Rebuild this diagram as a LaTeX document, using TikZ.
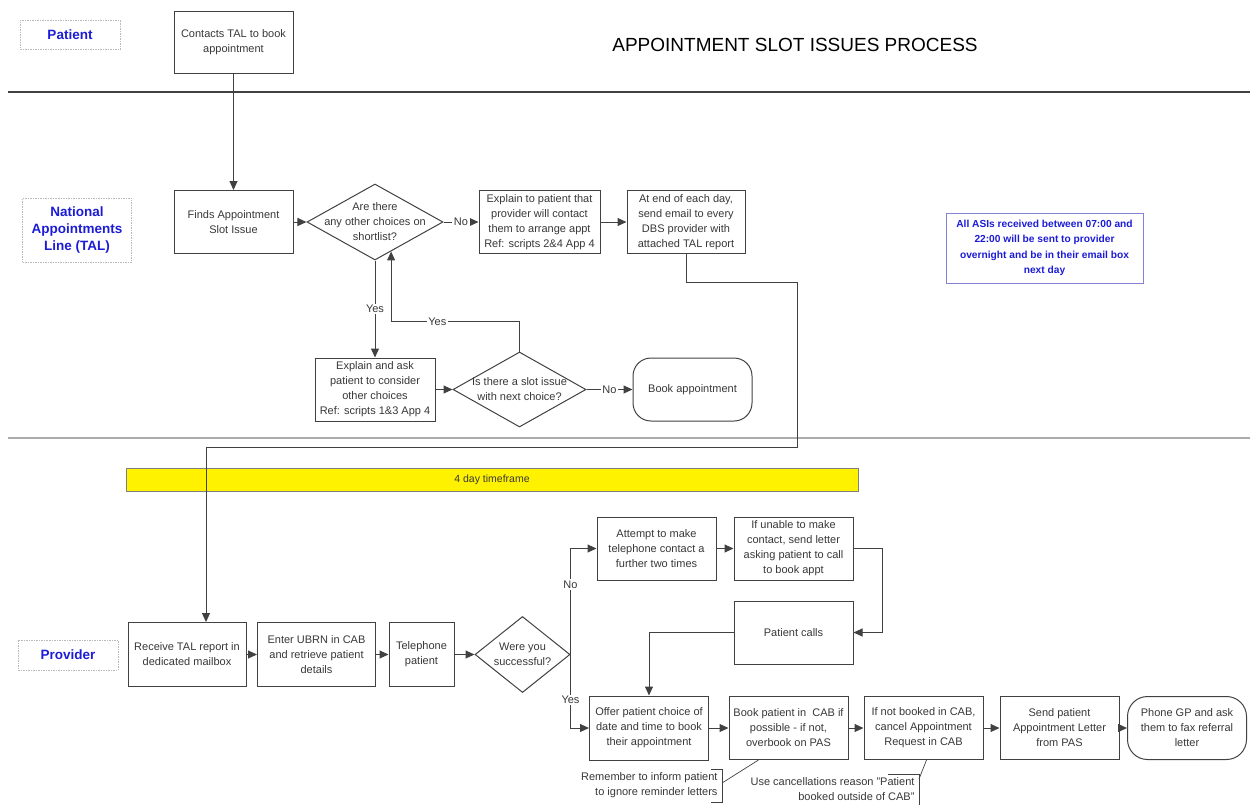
\documentclass[tikz,border=0pt]{standalone}
\usepackage{fontspec}
\setmainfont{Liberation Sans}
\usetikzlibrary{shapes.geometric,arrows.meta,calc}

\definecolor{lineclr}{RGB}{65,65,65}
\definecolor{txtclr}{RGB}{55,55,55}
\definecolor{laneblue}{RGB}{28,28,215}
\definecolor{noteblue}{RGB}{130,130,215}

\tikzset{
  procbox/.style={draw=lineclr, minimum width=119, minimum height=63, inner sep=2pt, align=center, text=txtclr},
  endbox/.style={procbox, rounded corners=18pt},
  decision/.style={draw=lineclr, shape=diamond, inner sep=0pt},
  dtext/.style={align=center, text=txtclr, inner sep=1pt},
  lane/.style={draw=gray!55, dash pattern=on 1.5pt off 1pt, align=center, text=laneblue,
    font=\fontsize{13.5}{17}\selectfont\bfseries},
  flow/.style={draw=lineclr, -{Triangle[length=9pt,width=8pt]}},
  lbl/.style={fill=white, inner sep=1.5pt, text=txtclr},
}

\begin{document}
\begin{tikzpicture}[x=1pt, y=-1pt, line width=1pt, font=\fontsize{11}{15}\selectfont]
\useasboundingbox (0,0) rectangle (1250,804);

% swimlanes
\draw[lineclr, line width=1.2pt] (8,92) -- (1250,92);
\draw[gray!65, line width=2.2pt] (8,438) -- (1250,438);
\node[lane, minimum width=100, minimum height=29] (patientlane) at (70,35) {Patient};
\node[lane, minimum width=109, minimum height=64] (tallane) at (77,230) {National\\Appointments\\Line (TAL)};
\node[lane, minimum width=100, minimum height=30] (providerlane) at (68,655) {Provider};

\node[text=black, font=\fontsize{19}{22}\selectfont] (title) at (795,45) {APPOINTMENT SLOT ISSUES PROCESS};

% patient and TAL
\node[procbox, minimum height=62] (contact) at (233.5,42) {Contacts TAL to book\\appointment};
\node[procbox] (findsasi) at (233.5,222) {Finds Appointment\\Slot Issue};
\node[decision, minimum width=136, minimum height=76] (choice) at (375,222) {};
\node[dtext] (choicetext) at (choice) {Are there\\any other choices on\\shortlist?};
\node[procbox, minimum width=121] (explainno) at (539.5,222) {Explain to patient that\\provider will contact\\them to arrange appt\\Ref: scripts 2\&4 App 4};
\node[procbox, minimum width=118] (sendemail) at (686,222) {At end of each day,\\send email to every\\DBS provider with\\attached TAL report};
\node[procbox, minimum width=120] (explainask) at (375,389.5) {Explain and ask\\patient to consider\\other choices\\Ref: scripts 1\&3 App 4};
\node[decision, minimum width=133, minimum height=75] (slotissue) at (519.5,389.5) {};
\node[dtext] (slotissuetext) at (slotissue) {Is there a slot issue\\with next choice?};
\node[endbox] (bookappt) at (692.5,389.5) {Book appointment};

\node[draw=noteblue, line width=1pt, text=laneblue, font=\fontsize{10.2}{15.5}\selectfont\bfseries,
  align=center, minimum width=197, minimum height=70, inner sep=2pt] (asinote) at (1044.5,248)
  {All ASIs received between 07:00 and\\22:00 will be sent to provider\\overnight and be in their email box\\next day};

\draw[flow] (contact) -- (findsasi);
\draw[flow] (findsasi) -- (choice);
\draw[flow] (choice) -- node[lbl] {No} (explainno);
\draw[flow] (explainno) -- (sendemail);
\draw[flow] (choice) -- node[lbl] {Yes} (explainask);
\draw[flow] (explainask) -- (slotissue);
\draw[flow] (slotissue) -- node[lbl] {No} (bookappt);
\coordinate (choicein) at ($(choice.south)!0.235!(choice.east)$);
\draw[flow] (slotissue.north) |- ($(choicein)+(0,70)$) node[lbl, pos=0.82] {Yes} -- (choicein);

% provider
\node[fill=yellow, draw=gray, line width=0.7pt, minimum width=732, minimum height=23, inner sep=0pt,
  text=txtclr, font=\fontsize{10.5}{12}\selectfont] (timeframe) at (492,479.5) {4 day timeframe};

\node[procbox, minimum width=118, minimum height=64] (receive) at (187,654.5) {Receive TAL report in\\dedicated mailbox};
\node[procbox, minimum width=118, minimum height=64] (enterubrn) at (316.5,654.5) {Enter UBRN in CAB\\and retrieve patient\\details};
\node[procbox, minimum width=65, minimum height=64] (phonepat) at (421.5,654.5) {Telephone\\patient};
\node[decision, minimum width=95, minimum height=76] (success) at (522.5,654.5) {};
\node[dtext] (successtext) at (success) {Were you\\successful?};
\node[procbox] (attempt) at (656.5,548.5) {Attempt to make\\telephone contact a\\further two times};
\node[procbox] (unable) at (793.5,548.5) {If unable to make\\contact, send letter\\asking patient to call\\to book appt};
\node[procbox] (patcalls) at (793.5,632.5) {Patient calls};
\node[procbox, minimum height=64] (offer) at (649,728) {Offer patient choice of\\date and time to book\\their appointment};
\node[procbox] (bookcab) at (788.5,728) {Book patient in\ \ CAB if\\possible - if not,\\overbook on PAS};
\node[procbox] (cancelcab) at (923.5,728) {If not booked in CAB,\\cancel Appointment\\Request in CAB};
\node[procbox] (sendletter) at (1059.5,728) {Send patient\\Appointment Letter\\from PAS};
\node[endbox, rounded corners=20pt] (phonegp) at (1187,728) {Phone GP and ask\\them to fax referral\\letter};

\node[dtext, align=right, anchor=east] (remind) at (719,785) {Remember to inform patient\\to ignore reminder letters};
\node[dtext, align=right, anchor=east] (cancelnote) at (916,789) {Use cancellations reason "Patient\\booked outside of CAB"};

% TAL report to provider
\coordinate (route1) at (797,282);
\coordinate (route2) at (797,447);
\coordinate (rin) at ([xshift=19pt]receive.north);
\draw[flow] (sendemail.south) |- (route1) -- (route2) -| (rin);

\draw[flow] (receive) -- (enterubrn);
\draw[flow] (enterubrn) -- (phonepat);
\draw[flow] (phonepat) -- (success);
\draw[flow] (success.east) |- node[lbl, pos=0.33] {No} (attempt.west);
\draw[flow] (success.east) |- node[lbl, pos=0.31] {Yes} (offer.west);
\draw[flow] (attempt) -- (unable);
\draw[flow] (unable.east) -- ++(29,0) |- (patcalls.east);
\draw[flow] (patcalls.west) -| (offer.north);
\draw[flow] (offer) -- (bookcab);
\draw[flow] (bookcab) -- (cancelcab);
\draw[flow] (cancelcab) -- (sendletter);
\draw[flow] (sendletter) -- (phonegp);

% note brackets
\draw[lineclr, line width=0.7pt] ($(remind.north east)+(-8,-2)$) -- ++(11,0) |- ($(remind.south east)+(-8,3)$);
\draw[lineclr, line width=0.7pt] ($(remind.east)+(3,-2)$) -- ($(bookcab.south west)!0.25!(bookcab.south east)$);
\draw[lineclr, line width=0.7pt] ($(cancelnote.north east)+(-28,-2)$) -- ++(31,0) |- ($(cancelnote.south east)+(-8,3)$);
\draw[lineclr, line width=0.7pt] ($(cancelnote.north east)+(3,3)$) -- ($(cancelcab.south)+(3,0)$);
\end{tikzpicture}
\end{document}
